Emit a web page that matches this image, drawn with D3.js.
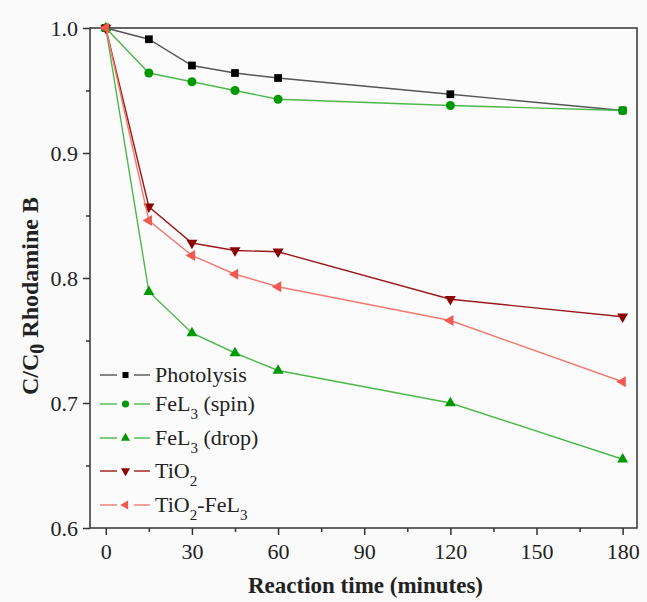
<!DOCTYPE html>
<html>
<head>
<meta charset="utf-8">
<script src="https://cdn.jsdelivr.net/npm/d3@7/dist/d3.min.js"></script>
<style>
  html, body { margin: 0; padding: 0; background: #fafafa; }
  svg { display: block; }
  text { font-family: "Liberation Serif", "Times New Roman", serif; fill: #222; }
</style>
</head>
<body>
<svg id="chart" width="647" height="602"></svg>
<script>
// ---- Data ----
const times = [0, 15, 30, 45, 60, 120, 180];
const photolysis = [1.0, 0.991, 0.970, 0.964, 0.960, 0.947, 0.934];
const fel3Spin   = [1.0, 0.964, 0.957, 0.950, 0.943, 0.938, 0.934];
const fel3Drop   = [1.0, 0.789, 0.756, 0.740, 0.726, 0.700, 0.655];
const tio2       = [1.0, 0.857, 0.828, 0.822, 0.821, 0.783, 0.769];
const tio2Fel3   = [1.0, 0.846, 0.818, 0.803, 0.793, 0.766, 0.717];

const xTicks = [0, 30, 60, 90, 120, 150, 180];
const xMinorTicks = [15, 45, 75, 105, 135, 165];
const yTicks = [0.6, 0.7, 0.8, 0.9, 1.0];
const yMinorTicks = [0.65, 0.75, 0.85, 0.95];

const seriesNames = ["Photolysis", "FeL3 (spin)", "FeL3 (drop)", "TiO2", "TiO2-FeL3"];
// label parts: [text, isSubscript]
const legendLabels = [
  [["Photolysis", false]],
  [["FeL", false], ["3", true], [" (spin)", false]],
  [["FeL", false], ["3", true], [" (drop)", false]],
  [["TiO", false], ["2", true]],
  [["TiO", false], ["2", true], ["-FeL", false], ["3", true]]
];
const seriesValues = [photolysis, fel3Spin, fel3Drop, tio2, tio2Fel3];

// ---- Styles ----
const styles = [
  { line: "#555555", marker: "#000000", symbol: d3.symbolSquare, rot: 0, size: 60, lsize: 36 },
  { line: "#4cb84c", marker: "#009a00", symbol: d3.symbolCircle, rot: 0, size: 64, lsize: 40 },
  { line: "#4cb84c", marker: "#009a00", symbol: d3.symbolTriangle, rot: 0, size: 52, lsize: 36 },
  { line: "#9a1a1a", marker: "#8b0000", symbol: d3.symbolTriangle, rot: 180, size: 52, lsize: 36 },
  { line: "#f27a72", marker: "#f05a50", symbol: d3.symbolTriangle, rot: -90, size: 52, lsize: 36 }
];

const svg = d3.select("#chart");
const L = 90, R = 637, T = 28, B = 528;

const x = d3.scaleLinear().domain([-5.5, 185]).range([L, R]);
const y = d3.scaleLinear().domain([0.6, 1.0]).range([B, T]);

// plot background
svg.append("rect").attr("x", L).attr("y", T).attr("width", R - L).attr("height", B - T)
  .attr("fill", "#fbfbfb");

// ---- Axes ----
const fmtY = d3.format(".1f");
const xAxis = svg.append("g").attr("transform", `translate(0,${B})`)
  .call(d3.axisBottom(x).tickValues(xTicks).tickSize(7).tickPadding(8).tickFormat(d3.format("d")));
const xMinor = svg.append("g").attr("transform", `translate(0,${B})`)
  .call(d3.axisBottom(x).tickValues(xMinorTicks).tickSize(4).tickFormat(""));
const yAxis = svg.append("g").attr("transform", `translate(${L},0)`)
  .call(d3.axisLeft(y).tickValues(yTicks).tickSize(7).tickPadding(5).tickFormat(fmtY));
const yMinor = svg.append("g").attr("transform", `translate(${L},0)`)
  .call(d3.axisLeft(y).tickValues(yMinorTicks).tickSize(4).tickFormat(""));

[xAxis, xMinor, yAxis, yMinor].forEach(g => {
  g.attr("font-family", null).attr("font-size", null);
  g.select(".domain").remove();
  g.selectAll(".tick line").attr("stroke", "#333").attr("stroke-width", 1.5);
  g.selectAll(".tick text").style("font-family", "'Liberation Serif', serif")
    .style("font-size", "22px").attr("fill", "#222");
});

// frame
svg.append("rect").attr("x", L).attr("y", T).attr("width", R - L).attr("height", B - T)
  .attr("fill", "none").attr("stroke", "#333").attr("stroke-width", 1.5);

// ---- Series ----
const line = d3.line().x(d => x(d[0])).y(d => y(d[1]));
seriesValues.forEach((vals, i) => {
  const st = styles[i];
  const pts = times.map((t, j) => [t, vals[j]]);
  const g = svg.append("g").attr("class", "series");
  g.append("path").datum(pts).attr("d", line)
    .attr("fill", "none").attr("stroke", st.line).attr("stroke-width", 1.4);
  g.selectAll("path.m").data(pts).join("path").attr("class", "m")
    .attr("d", d3.symbol().type(st.symbol).size(st.size))
    .attr("transform", d => `translate(${x(d[0])},${y(d[1])}) rotate(${st.rot})`)
    .attr("fill", st.marker);
});

// ---- Legend ----
const legendY = [375, 404, 438, 471, 505];
legendLabels.forEach((parts, i) => {
  const st = styles[i];
  const ly = legendY[i];
  const g = svg.append("g");
  g.append("line").attr("x1", 100).attr("x2", 117).attr("y1", ly).attr("y2", ly)
    .attr("stroke", st.line).attr("stroke-width", 1.4);
  g.append("line").attr("x1", 134).attr("x2", 150).attr("y1", ly).attr("y2", ly)
    .attr("stroke", st.line).attr("stroke-width", 1.4);
  g.append("path").attr("d", d3.symbol().type(st.symbol).size(st.lsize))
    .attr("transform", `translate(125.5,${ly}) rotate(${st.rot})`).attr("fill", st.marker);
  const t = g.append("text").attr("x", 155).attr("y", ly + 7).style("font-size", "22px");
  parts.forEach(([s, sub], k) => {
    const ts = t.append("tspan").text(s);
    if (sub) ts.attr("dy", 8).style("font-size", "15px");
    else if (k > 0 && parts[k - 1][1]) ts.attr("dy", -8);
  });
});

// ---- Axis titles ----
svg.append("text").attr("x", (L + R) / 2 + 2).attr("y", 593)
  .attr("text-anchor", "middle").style("font-size", "23px").style("font-weight", "bold")
  .text("Reaction time (minutes)");

const yt = svg.append("text").attr("transform", `translate(38,296) rotate(-90)`)
  .attr("text-anchor", "middle").style("font-size", "24px").style("font-weight", "bold");
yt.append("tspan").text("C/C");
yt.append("tspan").text("0").attr("dy", 6).style("font-size", "20px");
yt.append("tspan").text(" Rhodamine B").attr("dy", -6);
</script>
</body>
</html>
